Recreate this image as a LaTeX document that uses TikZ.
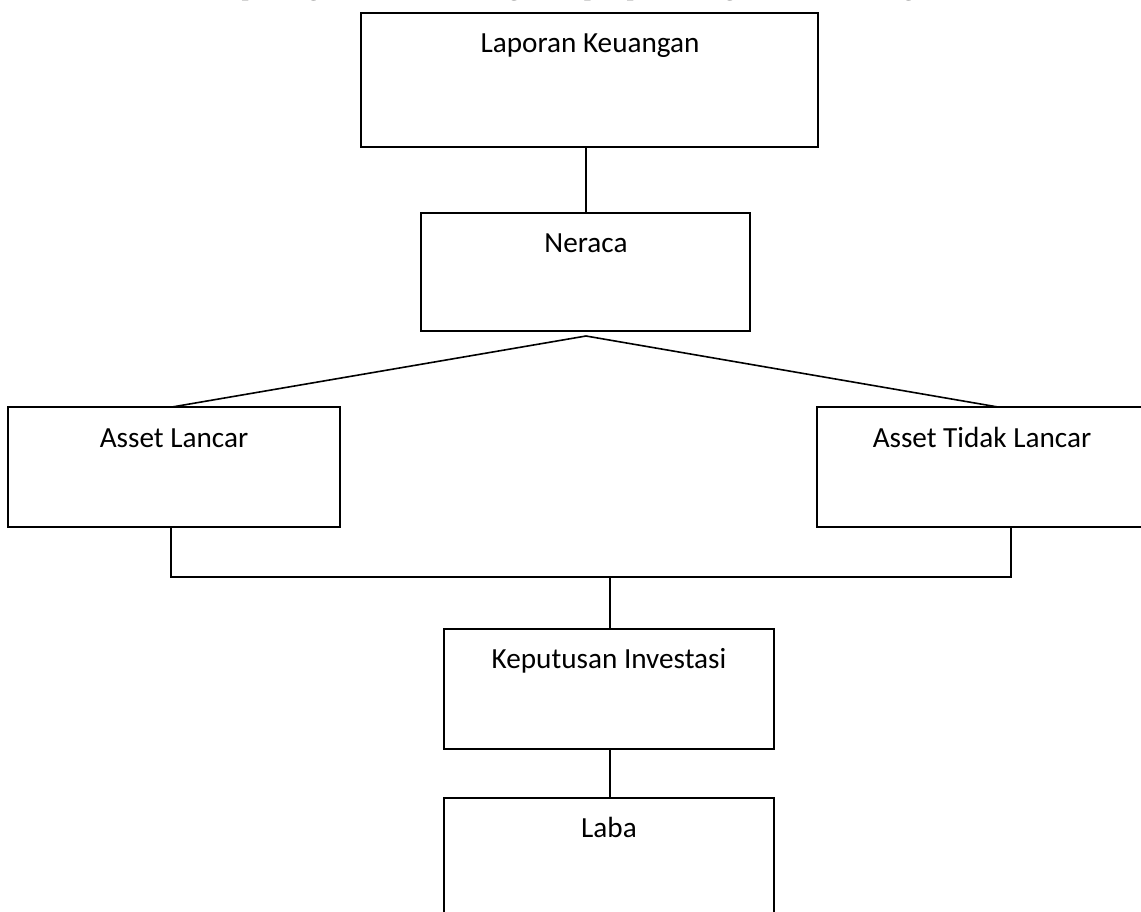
\documentclass[tikz,border=0pt]{standalone}
\usepackage{fontspec}
\setmainfont{Carlito}
\newfontfamily\serifclip{Liberation Serif}
\begin{document}
\begin{tikzpicture}[x=1pt,y=-1pt,
  box/.style={draw=black, line width=1.6pt, rectangle, inner sep=0pt},
  lbl/.style={font=\fontsize{29.2}{34}\selectfont, anchor=base, inner sep=0pt},
  conn/.style={draw=black, line width=1.6pt}]
\useasboundingbox (0,0) rectangle (1141,911);
\clip (0,0) rectangle (1141,911);
\fill[white] (0,0) rectangle (1141,911);
% clipped line of body text above the chart
\node[anchor=base west, inner sep=0pt, font=\serifclip\fontsize{29}{34}\selectfont] (topline) at (214,-6) {dapat digambarkan kerangka dapat perhitungan dalam sebagai berikut:};
% boxes
\node[box, minimum width=457, minimum height=134] (lk) at (589.5,80) {};
\node[box, minimum width=329, minimum height=118] (ner) at (585.5,272) {};
\node[box, minimum width=332, minimum height=120] (al) at (174,467) {};
\node[box, minimum width=333, minimum height=120] (atl) at (983.5,467) {};
\node[box, minimum width=330, minimum height=120] (ki) at (609,689) {};
\node[box, minimum width=330, minimum height=122] (laba) at (609,859) {};
% labels
\node[lbl] (tlk) at (590,52) {Laporan Keuangan};
\node[lbl] (tner) at (586,252) {Neraca};
\node[lbl] (tal) at (174,447) {Asset Lancar};
\node[lbl] (tatl) at (982,447) {Asset Tidak Lancar};
\node[lbl] (tki) at (609,668) {Keputusan Investasi};
\node[lbl] (tlaba) at (609,837) {Laba};
% connectors
\coordinate (apex) at (586,336);
\coordinate (alt) at (172,407);
\coordinate (atlt) at (998,407);
\coordinate (alb) at (171,527);
\coordinate (atlb) at (1011,527);
\coordinate (junc) at (610,577);
\draw[conn] (586,147) -- (586,213);
\draw[conn] (alt) -- (apex) -- (atlt);
\draw[conn] (alb) -- (alb |- junc) -- (atlb |- junc) -- (atlb);
\draw[conn] (junc) -- (ki.north -| junc);
\draw[conn] (ki.south -| junc) -- (laba.north -| junc);
\end{tikzpicture}
\end{document}
